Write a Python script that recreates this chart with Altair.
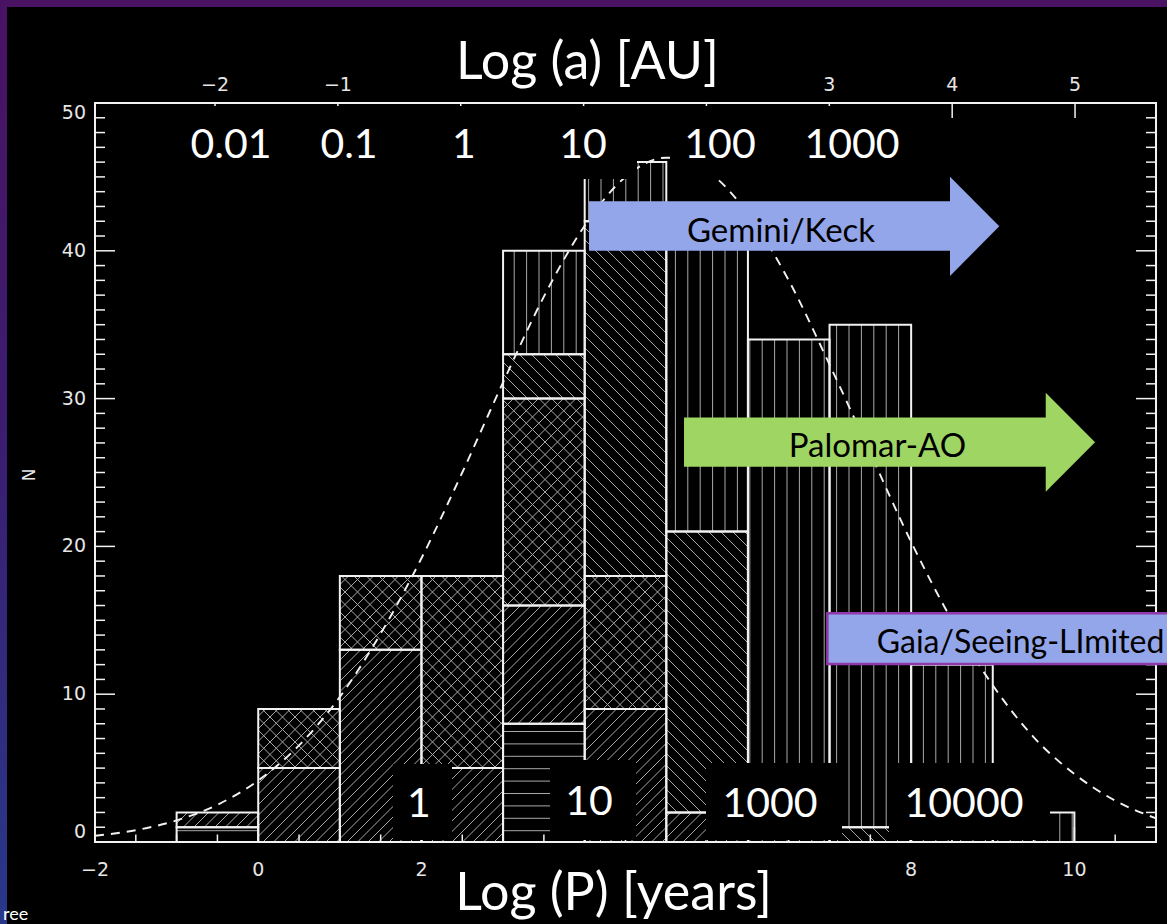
import math
import altair as alt
import pandas as pd

# ---------------- values ----------------
bin_start = [-1, 0, 1, 2, 3, 4, 5, 6, 7, 8, 9]          # left edge of each log P bin (width 1)
n_horizontal = [1, 0, 0, 0, 8, 0, 0, 0, 0, 0, 0]
n_slash = [1, 5, 13, 5, 8, 9, 2, 0, 0, 0, 0]
n_cross = [0, 4, 5, 13, 14, 9, 0, 0, 0, 0, 0]
n_backslash = [0, 0, 0, 0, 3, 24, 19, 0, 1, 0, 0]
n_vertical = [0, 0, 0, 0, 7, 4, 21, 34, 34, 12, 2]

curve_logp = [-2.0, -1.5, -1.0, -0.5, 0.0, 0.5, 1.0, 1.5, 2.0, 2.5, 3.0, 3.5, 4.0, 4.5,
              5.0, 5.5, 6.0, 6.5, 7.0, 7.5, 8.0, 8.5, 9.0, 9.5, 10.0, 10.5, 11.0]
curve_n = [0.42, 0.80, 1.46, 2.52, 4.16, 6.54, 9.82, 14.1, 19.2, 25.0, 31.1, 36.9, 41.7, 45.0,
           46.3, 45.4, 42.5, 38.0, 32.3, 26.3, 20.3, 15.0, 10.6, 7.1, 4.6, 2.8, 1.6]

x_major = [-2, 0, 2, 4, 6, 8, 10]
x_minor = [-1.5, -1, -0.5, 0.5, 1, 1.5, 2.5, 3, 3.5, 4.5, 5, 5.5, 6.5, 7, 7.5,
           8.5, 9, 9.5, 10.5]
x_label_values = [-2, 0, 2, 8, 10]                    # 4 and 6 sit under the slide title
x_label_text = ["\u22122", "0", "2", "8", "10"]
y_major = [0, 10, 20, 30, 40, 50]
y_minor = [v for v in range(1, 50) if v % 10 != 0]
y_label_mid_values = [10, 20, 30, 40]
y_label_mid_text = ["10", "20", "30", "40"]
top_major = [-2, -1, 0, 1, 2, 3, 4, 5]
top_label_values = [-2, -1, 3, 4, 5]                 # 0, 1, 2 sit under the slide title
top_label_text = ["\u22122", "\u22121", "3", "4", "5"]

au_labels = ["0.01", "0.1", "1", "10", "100", "1000"]
year_labels = ["1", "10", "1000", "10000"]

# ---------------- layout ----------------
CW, CH = 1167, 924
OX, OY = 95, 103
W, H = 1061, 739
XMIN, XMAX = -2.0, 11.0
YMIN, YMAX = 0.0, 50.0
AMIN, AMAX = -2.977, 5.659
XS = W / (XMAX - XMIN)
YS = H / (YMAX - YMIN)

WHITE = "#f2f2f2"
HATCH = "#a8a8a8"
LBL = "#e6e6e6"

# ---------------- stacked bar segments ----------------
styles = [("horizontal", n_horizontal), ("slash", n_slash), ("cross", n_cross),
          ("backslash", n_backslash), ("vertical", n_vertical)]
rows = []
for i, b in enumerate(bin_start):
    base = 0
    for name, arr in styles:
        v = arr[i]
        if v > 0:
            rows.append(dict(x0=b, x1=b + 1, y0=base, y1=base + v, style=name))
            base += v
bars = pd.DataFrame(rows)

# ---------------- hatch generation (pattern style) ----------------
V_SP, V_PH = 12.4, 10.0
H_SP, H_PH = 12.4, 11.3
D_SLASH, D_BACK, D_CROSS = 10.5, 12.0, 12.5


def hatch(style, p0, p1, q0, q1):
    out = []
    e = 0.7
    if style == "vertical":
        k = math.ceil((p0 + e - V_PH) / V_SP)
        while V_PH + k * V_SP < p1 - e:
            p = V_PH + k * V_SP
            out.append((p, q0, p, q1))
            k += 1
    if style == "horizontal":
        k = math.ceil((q0 + e - H_PH) / H_SP)
        while H_PH + k * H_SP < q1 - e:
            q = H_PH + k * H_SP
            out.append((p0, q, p1, q))
            k += 1
    if style in ("slash", "cross"):
        d = D_SLASH if style == "slash" else D_CROSS
        k = math.ceil((q0 - p1) / d)
        while k * d <= q1 - p0:
            c = k * d
            ps, pe = max(p0, q0 - c), min(p1, q1 - c)
            if pe - ps > 0.8:
                out.append((ps, ps + c, pe, pe + c))
            k += 1
    if style in ("backslash", "cross"):
        d = D_BACK if style == "backslash" else D_CROSS
        k = math.ceil((p0 + q0) / d)
        while k * d <= p1 + q1:
            c = k * d
            ps, pe = max(p0, c - q1), min(p1, c - q0)
            if pe - ps > 0.8:
                out.append((ps, c - ps, pe, c - pe))
            k += 1
    return out


hrows = []
for r in bars.itertuples():
    p0, p1 = (r.x0 - XMIN) * XS, (r.x1 - XMIN) * XS
    q0, q1 = r.y0 * YS, r.y1 * YS
    for (a, b, c, d) in hatch(r.style, p0, p1, q0, q1):
        hrows.append(dict(x=a / XS + XMIN, y=b / YS, x2=c / XS + XMIN, y2=d / YS))
hatch_df = pd.DataFrame(hrows)

curve_df = pd.DataFrame({"logp": curve_logp, "n": curve_n})

# ---------------- scales ----------------
xs = alt.Scale(domain=[XMIN, XMAX], nice=False, zero=False)
ys = alt.Scale(domain=[YMIN, YMAX], nice=False, zero=False)
X = lambda f: alt.X(f, scale=xs, axis=None)
Y = lambda f: alt.Y(f, scale=ys, axis=None)

hatch_layer = alt.Chart(hatch_df).mark_rule(color=HATCH, strokeWidth=1).encode(
    x=X("x:Q"), y=Y("y:Q"), x2="x2:Q", y2="y2:Q")

bar_layer = alt.Chart(bars).mark_rect(fillOpacity=0, stroke=WHITE, strokeWidth=2).encode(
    x=X("x0:Q"), x2="x1:Q", y=Y("y0:Q"), y2="y1:Q")

curve_layer = alt.Chart(curve_df).mark_line(
    color=WHITE, strokeWidth=1.9, strokeDash=[9, 7], interpolate="monotone").encode(
    x=X("logp:Q"), y=Y("n:Q"))

# ticks (pointing inward, IDL style)
ymaj = pd.DataFrame({"v": y_major})
ymin_ = pd.DataFrame({"v": y_minor})
xmaj = pd.DataFrame({"v": x_major})
xmin_ = pd.DataFrame({"v": x_minor})
tk = dict(color=WHITE, strokeWidth=1.5)
ticks = [
    alt.Chart(ymaj).mark_rule(**tk).encode(y=Y("v:Q"), x=alt.value(0), x2=alt.value(20)),
    alt.Chart(ymin_).mark_rule(**tk).encode(y=Y("v:Q"), x=alt.value(0), x2=alt.value(10)),
    alt.Chart(ymaj).mark_rule(**tk).encode(y=Y("v:Q"), x=alt.value(W), x2=alt.value(W - 20)),
    alt.Chart(ymin_).mark_rule(**tk).encode(y=Y("v:Q"), x=alt.value(W), x2=alt.value(W - 10)),
    alt.Chart(xmaj).mark_rule(**tk).encode(x=X("v:Q"), y=alt.value(H), y2=alt.value(H - 15)),
    alt.Chart(xmin_).mark_rule(**tk).encode(x=X("v:Q"), y=alt.value(H), y2=alt.value(H - 7.5)),
]

# tick labels, placed through the scales
lab = dict(font="DejaVu Sans", fontSize=19, color=LBL)
xlab = alt.Chart(pd.DataFrame({"v": x_label_values, "t": x_label_text})).mark_text(
    baseline="middle", align="center", **lab).encode(x=X("v:Q"), y=alt.value(H + 28), text="t:N")
ylab_mid = alt.Chart(pd.DataFrame({"v": y_label_mid_values, "t": y_label_mid_text})).mark_text(
    baseline="middle", align="right", **lab).encode(y=Y("v:Q"), x=alt.value(-9), text="t:N")
ylab_top = alt.Chart(pd.DataFrame({"v": [50], "t": ["50"]})).mark_text(
    baseline="top", align="right", dy=1, **lab).encode(y=Y("v:Q"), x=alt.value(-9), text="t:N")
ylab_bot = alt.Chart(pd.DataFrame({"v": [0], "t": ["0"]})).mark_text(
    baseline="bottom", align="right", **lab).encode(y=Y("v:Q"), x=alt.value(-9), text="t:N")

frame = alt.Chart(pd.DataFrame({"k": [0]})).mark_rect(
    fillOpacity=0, stroke=WHITE, strokeWidth=2).encode(
    x=alt.value(0), x2=alt.value(W), y=alt.value(0), y2=alt.value(H))

# annotation arrows (in data units of the plot)
arrows = pd.DataFrame([
    dict(name="gemini", bx0=4.053, bx1=8.476, by0=40.01, by1=43.35, tip=9.080, ht=45.01, hb=38.29, mid=41.66),
    dict(name="palomar", bx0=5.217, bx1=9.649, by0=25.39, by1=28.72, tip=10.253, ht=30.40, hb=23.70, mid=27.05),
])
arrow_color = {"gemini": "#94a6ea", "palomar": "#9fd663"}
arrow_layers = []
for a in arrows.itertuples():
    col = arrow_color[a.name]
    body = alt.Chart(pd.DataFrame([dict(x0=a.bx0, x1=a.bx1 + 0.01, y0=a.by0, y1=a.by1)])).mark_rect(
        color=col).encode(x=X("x0:Q"), x2="x1:Q", y=Y("y0:Q"), y2="y1:Q")
    head = alt.Chart(pd.DataFrame({"x": [a.bx1, a.tip], "yt": [a.ht, a.mid], "yb": [a.hb, a.mid]})).mark_area(
        color=col, orient="vertical").encode(x=X("x:Q"), y=Y("yb:Q"), y2="yt:Q")
    arrow_layers += [body, head]

gaia_box = alt.Chart(pd.DataFrame([dict(x0=6.973, x1=11.4, y0=12.04, y1=15.47)])).mark_rect(
    color="#94a6ea", stroke="#8d3aa8", strokeWidth=2.5).encode(
    x=X("x0:Q"), x2="x1:Q", y=Y("y0:Q"), y2="y1:Q")

main = alt.layer(hatch_layer, bar_layer, curve_layer, *ticks, frame,
                 xlab, ylab_mid, ylab_top, ylab_bot, *arrow_layers, gaia_box)

# top (semi-major axis) scale: ticks and labels
top_scale = alt.Scale(domain=[AMIN, AMAX], nice=False, zero=False)
top_ticks = alt.Chart(pd.DataFrame({"a": top_major})).mark_rule(**tk).encode(
    x=alt.X("a:Q", scale=top_scale, axis=None), y=alt.value(0), y2=alt.value(15))
top_labels = alt.Chart(pd.DataFrame({"a": top_label_values, "t": top_label_text})).mark_text(
    baseline="middle", align="center", **lab).encode(
    x=alt.X("a:Q", scale=top_scale, axis=None), y=alt.value(-18), text="t:N")
top_layer = alt.layer(top_ticks, top_labels)

# ---------------- slide overlays (pixel positions relative to plot) ----------------
one = pd.DataFrame({"k": [0]})
bg = alt.Chart(one).mark_rect(color=alt.Gradient(
    gradient="linear", x1=0, x2=0, y1=0, y2=1,
    stops=[alt.GradientStop(color="#4a1262", offset=0),
           alt.GradientStop(color="#3a1e72", offset=0.5),
           alt.GradientStop(color="#28388a", offset=1)])).encode(
    x=alt.value(-OX), x2=alt.value(CW - OX), y=alt.value(-OY), y2=alt.value(CH - OY))
black = alt.Chart(one).mark_rect(color="#000000").encode(
    x=alt.value(7 - OX), x2=alt.value(CW - OX), y=alt.value(7 - OY), y2=alt.value(CH - OY))

top_box_x = [(180, 282), (312, 390), (442, 484), (548, 637), (676, 764), (795, 910)]
bot_box = [(393, 452, 764), (550, 636, 760), (706, 842, 763), (889, 1050, 763)]
boxes = pd.DataFrame(
    [dict(x0=a - OX, x1=b - OX, y0=106 - OY, y1=179 - OY) for a, b in top_box_x] +
    [dict(x0=a - OX, x1=b - OX, y0=t - OY, y1=840 - OY) for a, b, t in bot_box])
P = lambda f: alt.X(f, scale=None, axis=None)
Q = lambda f: alt.Y(f, scale=None, axis=None)
box_layer = alt.Chart(boxes).mark_rect(color="#000000").encode(
    x=P("x0:Q"), x2="x1:Q", y=Q("y0:Q"), y2="y1:Q")

au_df = pd.DataFrame({"label": au_labels,
                      "px": [x - OX for x in [231, 349, 464, 583, 720, 852]],
                      "py": [158 - OY] * 6})
yr_df = pd.DataFrame({"label": year_labels,
                      "px": [x - OX for x in [419, 589, 770, 964]],
                      "py": [817 - OY, 815 - OY, 817 - OY, 817 - OY]})
num_font = dict(font="Lato", fontSize=41, color="#ffffff", baseline="alphabetic", align="center")
au_layer = alt.Chart(au_df).mark_text(**num_font).encode(x=P("px:Q"), y=Q("py:Q"), text="label:N")
yr_layer = alt.Chart(yr_df).mark_text(**num_font).encode(x=P("px:Q"), y=Q("py:Q"), text="label:N")

titles_df = pd.DataFrame({"label": ["Log (a) [AU]", "Log (P) [years]"],
                          "px": [587.5 - OX, 613.5 - OX], "py": [79 - OY, 910 - OY]})
title_layer = alt.Chart(titles_df).mark_text(
    font="Lato", fontSize=52, color="#ffffff", baseline="alphabetic", align="center").encode(
    x=P("px:Q"), y=Q("py:Q"), text="label:N")

arrow_txt = pd.DataFrame({"label": ["Gemini/Keck", "Palomar-AO"],
                          "px": [781 - OX, 877.5 - OX], "py": [241.7 - OY, 456.7 - OY]})
arrow_txt_layer = alt.Chart(arrow_txt).mark_text(
    font="Lato", fontSize=33, color="#000000", baseline="alphabetic", align="center").encode(
    x=P("px:Q"), y=Q("py:Q"), text="label:N")
gaia_txt = alt.Chart(pd.DataFrame({"label": ["Gaia/Seeing-LImited"], "px": [876.7 - OX],
                                   "py": [653.3 - OY]})).mark_text(
    font="Lato", fontSize=32, color="#000000", baseline="alphabetic", align="left").encode(
    x=P("px:Q"), y=Q("py:Q"), text="label:N")

n_txt = alt.Chart(pd.DataFrame({"label": ["N"], "px": [30 - OX], "py": [475 - OY]})).mark_text(
    font="DejaVu Sans", fontSize=17, color=LBL, angle=270, baseline="middle", align="center").encode(
    x=P("px:Q"), y=Q("py:Q"), text="label:N")
ree_txt = alt.Chart(pd.DataFrame({"label": ["ree"], "px": [3 - OX], "py": [920 - OY]})).mark_text(
    font="Lato", fontSize=18, color="#ffffff", baseline="alphabetic", align="left").encode(
    x=P("px:Q"), y=Q("py:Q"), text="label:N")

chart = alt.layer(
    bg, black, main, top_layer, box_layer, au_layer, yr_layer, title_layer,
    arrow_txt_layer, gaia_txt, n_txt, ree_txt
).resolve_scale(x="independent", y="independent").properties(
    width=W, height=H,
    autosize=alt.AutoSizeParams(type="none"),
    padding={"left": OX, "top": OY, "right": CW - OX - W, "bottom": CH - OY - H},
    background="#000000",
).configure_view(strokeWidth=0)

chart.save("out.html", embed_options={"renderer": "svg", "actions": False})
